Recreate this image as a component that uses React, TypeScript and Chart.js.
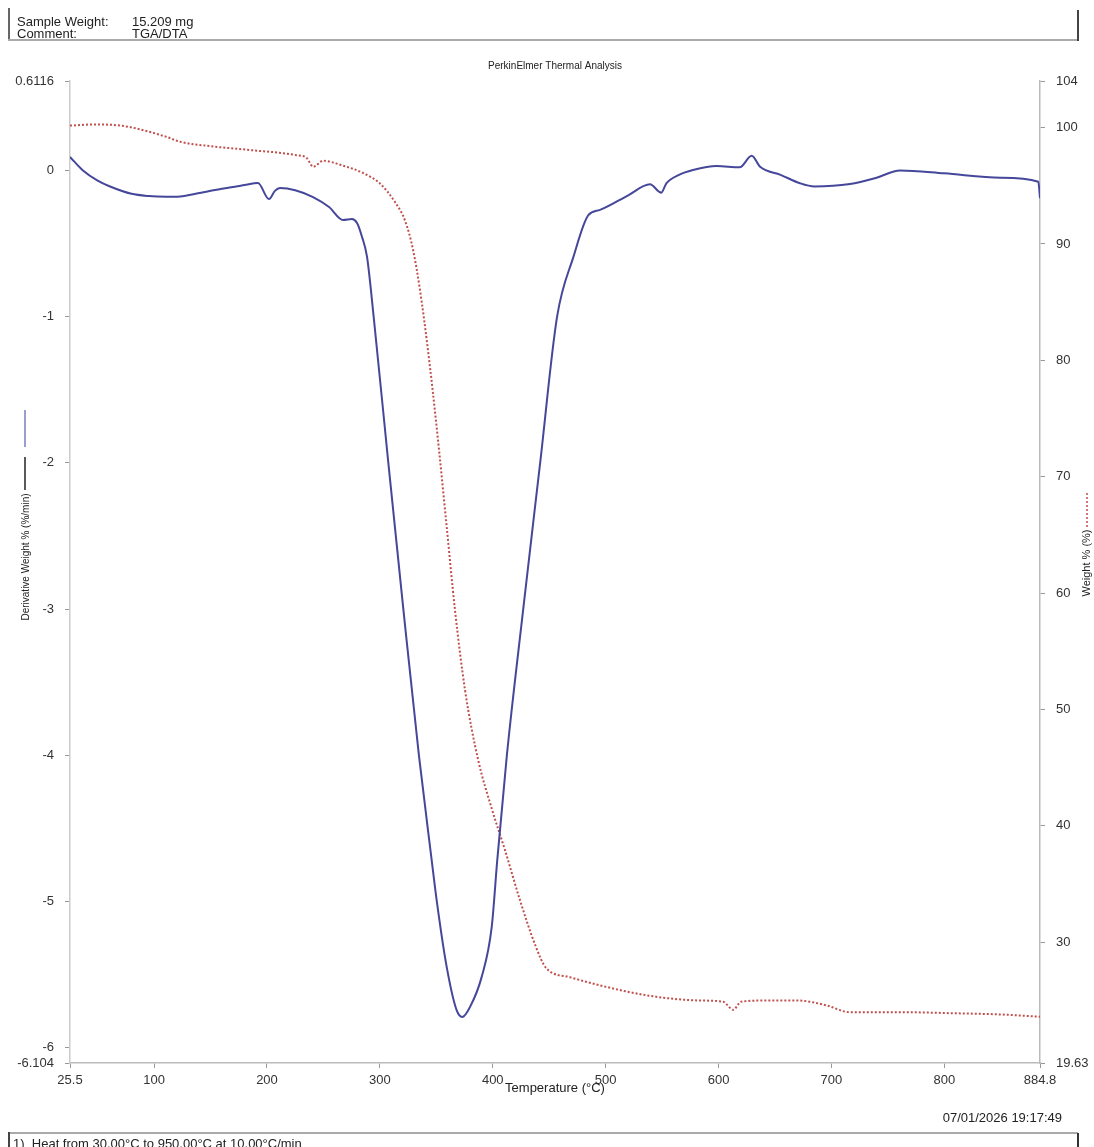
import React, { useEffect, useRef } from "react";
import { Chart, registerables } from "chart.js";

Chart.register(...registerables);

// Derivative weight (DTG) curve, %/min vs temperature °C
const dtgTemps = [
  25.5, 37, 50, 61, 80, 95, 111, 123, 140, 160, 180, 192, 201.8, 207, 211.5, 225,
  240.8, 255, 267.4, 275.3, 279.8, 284, 288.6, 294.5, 307.5, 320.8, 334.6, 345.9,
  350.3, 359.2, 368, 373, 379.9, 390.2, 399.1, 404, 412.5, 427, 442, 457, 471.4,
  484.7, 495, 520, 539.3, 549.3, 553.8, 565, 577.4, 598.4, 618.7, 629.4, 636.8,
  655, 672.2, 685, 716.5, 740, 760.8, 800, 850, 883.3, 884.8,
];
const dtgValues = [
  0.092, 0.0, -0.07, -0.11, -0.16, -0.175, -0.18, -0.178, -0.155, -0.125, -0.1,
  -0.086, -0.196, -0.14, -0.12, -0.135, -0.182, -0.25, -0.339, -0.332, -0.36,
  -0.45, -0.59, -1.0, -2.0, -3.0, -4.0, -4.716, -4.99, -5.447, -5.743, -5.789,
  -5.72, -5.515, -5.173, -4.717, -4.0, -3.0, -2.0, -1.0, -0.593, -0.305, -0.27,
  -0.17, -0.095, -0.152, -0.088, -0.03, 0.003, 0.03, 0.021, 0.1, 0.025, -0.03,
  -0.088, -0.11, -0.093, -0.05, 0.0, -0.02, -0.05, -0.077, -0.19,
];

// Weight % (TG) curve vs temperature °C
const tgTemps = [
  25.5, 49, 75, 111, 123, 150, 185, 226, 235, 241, 249.9, 265, 285, 300, 313.4,
  322.3, 329.4, 335.6, 342.6, 350.6, 358.6, 366.6, 375.4, 387, 399.4, 410.9, 424.2,
  437.5, 447.2, 468.5, 495, 539.3, 583.6, 604, 613, 620, 645, 670, 695, 716, 760,
  810, 850, 884.8,
];
const tgValues = [
  100.17, 100.27, 100.1, 99.2, 98.78, 98.4, 98.07, 97.63, 97.4, 96.63, 97.15, 96.8,
  96.1, 95.2, 93.6, 92.0, 89.5, 86.0, 80.9, 74.0, 66.3, 58.5, 51.7, 45.7, 41.4,
  37.9, 33.6, 29.8, 27.8, 27.0, 26.3, 25.4, 25.0, 24.9, 24.2, 24.9, 25.0, 25.0,
  24.6, 24.0, 24.0, 23.9, 23.8, 23.6,
];

const xTicks = [25.5, 100, 200, 300, 400, 500, 600, 700, 800, 884.8];
const xTickLabels = ["25.5", "100", "200", "300", "400", "500", "600", "700", "800", "884.8"];
const leftTicks = [-6.104, -6, -5, -4, -3, -2, -1, 0, 0.6116];
const leftTickLabels = ["-6.104", "-6", "-5", "-4", "-3", "-2", "-1", "0", "0.6116"];
const rightTicks = [19.63, 30, 40, 50, 60, 70, 80, 90, 100, 104];
const rightTickLabels = ["19.63", "30", "40", "50", "60", "70", "80", "90", "100", "104"];

const FONT = '"Liberation Sans", Arial, sans-serif';
const W = 1094;
const H = 1147;

const titlesPlugin = {
  id: "titles",
  afterDraw(chart: any) {
    const ctx = chart.ctx as CanvasRenderingContext2D;
    const area = chart.chartArea;
    const cx = (area.left + area.right) / 2;
    ctx.save();
    ctx.fillStyle = "#222";
    ctx.textAlign = "center";
    ctx.textBaseline = "middle";
    ctx.font = `10px ${FONT}`;
    ctx.fillText("PerkinElmer Thermal Analysis", cx, 66);
    ctx.font = `13px ${FONT}`;
    ctx.fillText("Temperature (°C)", cx, 1088);

    // left axis title with line markers
    ctx.save();
    ctx.translate(26, 557);
    ctx.rotate(-Math.PI / 2);
    ctx.font = `10px ${FONT}`;
    ctx.fillText("Derivative Weight % (%/min)", 0, 0);
    ctx.restore();
    ctx.lineWidth = 1.5;
    ctx.strokeStyle = "#222";
    ctx.beginPath();
    ctx.moveTo(25, 457);
    ctx.lineTo(25, 490);
    ctx.stroke();
    ctx.strokeStyle = "#7a7cc4";
    ctx.beginPath();
    ctx.moveTo(25, 410);
    ctx.lineTo(25, 447);
    ctx.stroke();

    // right axis title with dotted marker
    ctx.save();
    ctx.translate(1087, 563);
    ctx.rotate(-Math.PI / 2);
    ctx.font = `11px ${FONT}`;
    ctx.fillText("Weight % (%)", 0, 0);
    ctx.restore();
    ctx.strokeStyle = "#c0504d";
    ctx.setLineDash([2, 2]);
    ctx.beginPath();
    ctx.moveTo(1087, 493);
    ctx.lineTo(1087, 527);
    ctx.stroke();
    ctx.restore();
  },
};

export default function App() {
  const canvasRef = useRef<HTMLCanvasElement | null>(null);

  useEffect(() => {
    const canvas = canvasRef.current;
    if (!canvas) return;
    const tickFont = { family: FONT, size: 13 };
    const chart = new Chart(canvas, {
      type: "line",
      data: {
        datasets: [
          {
            label: "Derivative Weight % (%/min)",
            data: dtgTemps.map((t, i) => ({ x: t, y: dtgValues[i] })),
            yAxisID: "y",
            borderColor: "#45479a",
            borderWidth: 2,
            pointRadius: 0,
            cubicInterpolationMode: "monotone",
            fill: false,
          },
          {
            label: "Weight % (%)",
            data: tgTemps.map((t, i) => ({ x: t, y: tgValues[i] })),
            yAxisID: "y1",
            borderColor: "#c0504d",
            borderWidth: 2,
            borderDash: [2, 2],
            pointRadius: 0,
            cubicInterpolationMode: "monotone",
            fill: false,
          },
        ],
      },
      options: {
        responsive: false,
        animation: false,
        devicePixelRatio: 1,
        layout: { padding: { top: 81, left: 0, right: 0, bottom: 0 } },
        plugins: {
          legend: { display: false },
          tooltip: { enabled: false },
          title: { display: false },
        },
        scales: {
          x: {
            type: "linear",
            min: 25.5,
            max: 884.8,
            afterBuildTicks: (s: any) => {
              s.ticks = xTicks.map((v) => ({ value: v }));
            },
            afterFit: (s: any) => {
              s.height = H - 1063;
            },
            ticks: {
              autoSkip: false,
              maxRotation: 0,
              padding: 5,
              color: "#333",
              font: tickFont,
              callback: (v: any) => {
                const i = xTicks.indexOf(Number(v));
                return i >= 0 ? xTickLabels[i] : "";
              },
            },
            grid: { drawOnChartArea: false, drawTicks: true, tickLength: 5, color: "#999" },
            border: { display: true, color: "#bbb", width: 1.5 },
          },
          y: {
            type: "linear",
            position: "left",
            min: -6.104,
            max: 0.6116,
            afterBuildTicks: (s: any) => {
              s.ticks = leftTicks.map((v) => ({ value: v }));
            },
            afterFit: (s: any) => {
              s.width = 70;
            },
            ticks: {
              autoSkip: false,
              padding: 11,
              color: "#333",
              font: tickFont,
              callback: (v: any) => {
                const i = leftTicks.indexOf(Number(v));
                return i >= 0 ? leftTickLabels[i] : "";
              },
            },
            grid: { drawOnChartArea: false, drawTicks: true, tickLength: 5, color: "#999" },
            border: { display: true, color: "#ccc", width: 1.5 },
          },
          y1: {
            type: "linear",
            position: "right",
            min: 19.63,
            max: 104,
            afterBuildTicks: (s: any) => {
              s.ticks = rightTicks.map((v) => ({ value: v }));
            },
            afterFit: (s: any) => {
              s.width = W - 1040;
            },
            ticks: {
              autoSkip: false,
              padding: 11,
              color: "#333",
              font: tickFont,
              callback: (v: any) => {
                const i = rightTicks.indexOf(Number(v));
                return i >= 0 ? rightTickLabels[i] : "";
              },
            },
            grid: { drawOnChartArea: false, drawTicks: true, tickLength: 5, color: "#999" },
            border: { display: true, color: "#bbb", width: 1.5 },
          },
        },
      },
      plugins: [titlesPlugin],
    } as any);
    return () => chart.destroy();
  }, []);

  const textStyle: React.CSSProperties = {
    position: "absolute",
    fontFamily: FONT,
    fontSize: 13,
    color: "#222",
    whiteSpace: "nowrap",
    lineHeight: "13px",
  };

  return (
    <div
      style={{
        position: "fixed",
        left: 0,
        top: 0,
        width: W,
        height: H,
        background: "#fff",
        overflow: "hidden",
      }}
    >
      <canvas ref={canvasRef} width={W} height={H} style={{ display: "block", width: W, height: H }} />
      {/* header box */}
      <div style={{ position: "absolute", left: 8, top: 8, width: 1.5, height: 32, background: "#666" }} />
      <div style={{ position: "absolute", left: 8, top: 39, width: 1070, height: 1.5, background: "#aaa" }} />
      <div style={{ position: "absolute", left: 1077, top: 10, width: 1.5, height: 31, background: "#444" }} />
      <div style={{ ...textStyle, left: 17, top: 14.5 }}>Sample Weight:</div>
      <div style={{ ...textStyle, left: 132, top: 14.5 }}>15.209 mg</div>
      <div style={{ ...textStyle, left: 17, top: 26.5 }}>Comment:</div>
      <div style={{ ...textStyle, left: 132, top: 26.5 }}>TGA/DTA</div>
      {/* footer */}
      <div style={{ ...textStyle, right: W - 1062, top: 1110.5 }}>07/01/2026 19:17:49</div>
      <div style={{ position: "absolute", left: 8, top: 1132, width: 1070, height: 1.5, background: "#aaa" }} />
      <div style={{ position: "absolute", left: 8, top: 1132, width: 1.5, height: 16, background: "#444" }} />
      <div style={{ position: "absolute", left: 1077, top: 1133, width: 1.5, height: 15, background: "#333" }} />
      <div style={{ ...textStyle, left: 13, top: 1136.5 }}>1)&nbsp; Heat from 30.00°C to 950.00°C at 10.00°C/min</div>
    </div>
  );
}
